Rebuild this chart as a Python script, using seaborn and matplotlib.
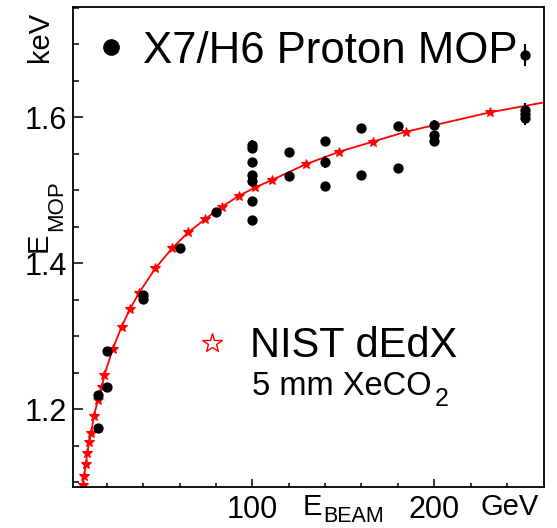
import matplotlib
matplotlib.use("Agg")
import matplotlib.pyplot as plt
import numpy as np
import pandas as pd
import seaborn as sns

# Measured most-probable energy loss of protons (X7/H6 beam), keV
beam_energy = [15, 15, 20, 20, 40, 40, 60, 80,
               100, 100, 100, 100, 100, 100, 100,
               120, 120, 140, 140, 140, 160, 160, 180, 180,
               200, 200, 200, 250, 250, 250, 250]
mop_value = [1.220, 1.175, 1.280, 1.230, 1.357, 1.351, 1.421, 1.470,
             1.562, 1.5575, 1.539, 1.521, 1.513, 1.486, 1.460,
             1.553, 1.519, 1.567, 1.539, 1.506, 1.585, 1.521, 1.588, 1.530,
             1.590, 1.576, 1.567, 1.685, 1.610, 1.6045, 1.599]
mop_error = [0.003, 0.003, 0.003, 0.003, 0.003, 0.003, 0.003, 0.003,
             0.007, 0.003, 0.003, 0.003, 0.003, 0.003, 0.003,
             0.003, 0.003, 0.003, 0.008, 0.003, 0.003, 0.003, 0.003, 0.003,
             0.007, 0.003, 0.003, 0.015, 0.003, 0.015, 0.003]

# NIST dE/dx expectation for 5 mm of XeCO2
nist_energy = [6.0, 6.8, 7.5, 8.6, 9.3, 10.4, 11.4, 13.0, 15.1, 17.3, 18.7,
               23.3, 28.2, 32.8, 37.6, 46.7, 55.9, 64.8, 74.2, 83.3, 92.5,
               101.7, 110.8, 129.3, 147.8, 166.2, 184.5, 230.6, 276.8]
nist_value = [1.082, 1.0964, 1.109, 1.1247, 1.1397, 1.1556, 1.168, 1.1908,
              1.2127, 1.2301, 1.247, 1.2826, 1.3132, 1.3374, 1.3589, 1.3932,
              1.4205, 1.4425, 1.4607, 1.4775, 1.4922, 1.5041, 1.5141, 1.5356,
              1.5529, 1.5666, 1.5803, 1.6068, 1.628]

x_major = [100, 200]
x_major_labels = ["100", "200"]
y_major = [1.2, 1.4, 1.6]
y_major_labels = ["1.2", "1.4", "1.6"]

sns.set_style("white")
plt.rcParams["font.family"] = ["Liberation Sans", "DejaVu Sans"]

W, H = 557, 528
fig = plt.figure(figsize=(W / 100, H / 100), dpi=100)


def fp(x, y):
    """pixel position (from top-left) -> figure fraction"""
    return x / W, 1 - y / H


left, top, right, bottom = 72.7, 7.3, 544.0, 486.7
ax = fig.add_axes([left / W, 1 - bottom / H, (right - left) / W, (bottom - top) / H])

mop = pd.DataFrame({"E": beam_energy, "MOP": mop_value, "err": mop_error})
nist = pd.DataFrame({"E": nist_energy, "dEdx": nist_value})

sns.lineplot(data=nist, x="E", y="dEdx", ax=ax, color="red", linewidth=1.3,
             marker="*", markersize=7.5, markeredgecolor="red", estimator=None,
             sort=True, zorder=2)
ax.errorbar(mop["E"], mop["MOP"], yerr=mop["err"], fmt="none", ecolor="black",
            elinewidth=1.5, capsize=0, zorder=3)
sns.scatterplot(data=mop, x="E", y="MOP", ax=ax, color="black", s=55,
                linewidth=0, zorder=4)

ax.set_xlim(1.3, 260.3)
ax.set_ylim(1.094, 1.7507)
ax.set_xlabel("")
ax.set_ylabel("")

ax.set_xticks(x_major)
ax.set_xticklabels(x_major_labels)
ax.set_xticks([v for v in range(20, 260, 20) if v not in x_major], minor=True)
ax.set_yticks(y_major)
ax.set_yticklabels(y_major_labels)
ax.set_yticks([v for v in np.arange(1.10, 1.76, 0.05) if min(abs(v - m) for m in y_major) > 1e-6],
              minor=True)

ax.tick_params(axis="both", which="both", direction="in", top=False, right=False,
               bottom=True, left=True, colors="black", labelsize=22, width=1.1)
ax.tick_params(axis="x", which="major", length=5.5, pad=6)
ax.tick_params(axis="x", which="minor", length=2.8)
ax.tick_params(axis="y", which="major", length=7.5, pad=4)
ax.tick_params(axis="y", which="minor", length=4)

for s in ax.spines.values():
    s.set_visible(True)
    s.set_color("black")
    s.set_linewidth(1.3)

# axis titles
kw = dict(rotation=90, rotation_mode="anchor", ha="left", va="baseline", color="black")
fig.text(*fp(48, 62), "keV", fontsize=21, **kw)
fig.text(*fp(47, 252), "E", fontsize=21, **kw)
fig.text(*fp(62, 231), "MOP", fontsize=16, **kw)

kw = dict(ha="left", va="baseline", color="black")
fig.text(*fp(303, 515), "E", fontsize=21, **kw)
fig.text(*fp(323, 521.5), "BEAM", fontsize=15.5, **kw)
fig.text(*fp(480, 515), "GeV", fontsize=21, **kw)

# legend entries
fig.lines.append(plt.Line2D([110.7 / W], [1 - 46.7 / H], transform=fig.transFigure,
                            marker="o", markersize=11, color="black", linestyle="none"))
fig.text(*fp(143, 63.3), "X7/H6 Proton MOP", fontsize=31.5, **kw)

fig.lines.append(plt.Line2D([212 / W], [1 - 343 / H], transform=fig.transFigure,
                            marker="*", markersize=15, markerfacecolor="white",
                            markeredgecolor="red", markeredgewidth=1.0, linestyle="none"))
fig.text(*fp(250, 356.7), "NIST dEdX", fontsize=30, **kw)
gas = fig.text(*fp(252, 395), "5 mm XeCO", fontsize=23.5, **kw)

# place the subscript right after the formula text
fig.canvas.draw()
ext = gas.get_window_extent(renderer=fig.canvas.get_renderer())
fig.text((ext.x1 + 3) / W, 1 - 406 / H, "2", fontsize=18, **kw)

fig.savefig("out.png", dpi=100)
